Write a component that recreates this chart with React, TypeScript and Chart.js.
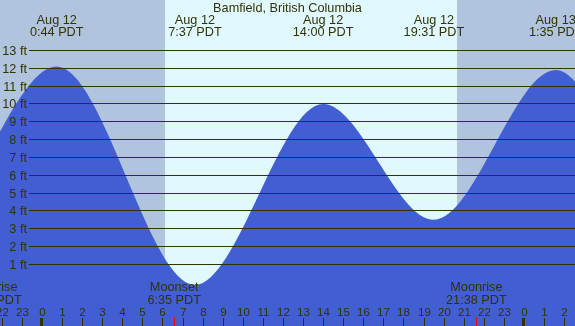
import React, { useEffect, useRef } from "react";
import { Chart, registerables } from "chart.js";

Chart.register(...registerables);

// ---- data (hours relative to Aug 12 00:00 PDT, heights in feet) ----
const tideHours = [-12.3, -5.6, 0.733, 7.617, 14.0, 19.517, 25.583, 32.4, 38.6];
const tideFeet = [10.8, 3.4, 12.1, -0.15, 10.0, 3.5, 11.9, -0.3, 10.6];

const extremeHours = [0.733, 7.617, 14.0, 19.517, 25.583];
const extremeDates = ["Aug 12", "Aug 12", "Aug 12", "Aug 12", "Aug 13"];
const extremeTimes = ["0:44 PDT", "7:37 PDT", "14:00 PDT", "19:31 PDT", "1:35 PDT"];

const moonHours = [-2.52, 6.583, 21.633];
const moonNames = ["Moonrise", "Moonset", "Moonrise"];
const moonTimes = ["21:29 PDT", "6:35 PDT", "21:38 PDT"];

const sunriseHour = 6.125;
const sunsetHour = 20.65;

const footTicks = [1, 2, 3, 4, 5, 6, 7, 8, 9, 10, 11, 12, 13];
const hourTicks = [-2, -1, 0, 1, 2, 3, 4, 5, 6, 7, 8, 9, 10, 11, 12, 13, 14, 15, 16, 17, 18, 19, 20, 21, 22, 23, 24, 25, 26];

const title = "Bamfield, British Columbia";

// ---- styles ----
const NIGHT = "#B0C4DE";
const DAY = "#E0F8FF";
const WATER = "#415FD3";
const INK = "#333300";
const FONT = '12.7px "Liberation Sans", Arial, sans-serif';
const SMALL = '11.5px "Liberation Sans", Arial, sans-serif';

const decor = {
  id: "decor",
  beforeDatasetsDraw(chart: any) {
    const { ctx, chartArea: a, scales } = chart;
    const x = scales.x;
    const sr = Math.round(x.getPixelForValue(sunriseHour));
    const ss = Math.round(x.getPixelForValue(sunsetHour));
    const h = a.bottom - a.top;
    ctx.save();
    ctx.fillStyle = NIGHT;
    ctx.fillRect(a.left, a.top, sr - a.left, h);
    ctx.fillStyle = DAY;
    ctx.fillRect(sr, a.top, ss - sr, h);
    ctx.fillStyle = NIGHT;
    ctx.fillRect(ss, a.top, a.right - ss, h);
    ctx.restore();
  },
  afterDatasetsDraw(chart: any) {
    const { ctx, chartArea: a, scales } = chart;
    const x = scales.x;
    const y = scales.y;
    ctx.save();
    // grid lines and foot labels
    ctx.fillStyle = INK;
    ctx.font = FONT;
    ctx.textAlign = "right";
    ctx.textBaseline = "alphabetic";
    footTicks.forEach((v) => {
      const py = Math.floor(y.getPixelForValue(v));
      ctx.fillRect(29, py, a.right - 29, 1);
      ctx.fillText(`${v} ft`, 27, py + 4.5);
    });
    // title
    ctx.textAlign = "center";
    ctx.fillText(title, (a.left + a.right) / 2, 12);
    // high/low labels
    extremeHours.forEach((hh, i) => {
      const px = x.getPixelForValue(hh);
      ctx.fillText(extremeDates[i], px, 24);
      ctx.fillText(extremeTimes[i], px, 36);
    });
    // moon labels
    moonHours.forEach((hh, i) => {
      const px = x.getPixelForValue(hh);
      ctx.fillText(moonNames[i], px, 291);
      ctx.fillText(moonTimes[i], px, 303.5);
    });
    // hour ticks and labels
    ctx.font = SMALL;
    hourTicks.forEach((hh) => {
      const px = Math.round(x.getPixelForValue(hh));
      const lab = (((hh % 24) + 24) % 24).toString();
      ctx.fillText(lab, px + 0.5, 316);
      if (hh % 24 === 0) ctx.fillRect(px - 2, 318, 3, 8);
      else ctx.fillRect(px, 318, 1, 8);
    });
    ctx.fillStyle = "#FF0000";
    moonHours.forEach((hh) => {
      const px = Math.round(x.getPixelForValue(hh));
      ctx.fillRect(px, 317, 1, 9);
    });
    ctx.restore();
  },
};

export default function App() {
  const ref = useRef<HTMLCanvasElement>(null);
  useEffect(() => {
    if (!ref.current) return;
    const chart = new Chart(ref.current, {
      type: "line",
      data: {
        datasets: [
          {
            data: tideHours.map((h, i) => ({ x: h, y: tideFeet[i] })),
            fill: "start",
            backgroundColor: WATER,
            borderColor: WATER,
            borderWidth: 0,
            pointRadius: 0,
            cubicInterpolationMode: "monotone",
          } as any,
        ],
      },
      options: {
        responsive: false,
        maintainAspectRatio: false,
        animation: false,
        layout: { padding: 0 },
        elements: { line: { capBezierPoints: false } as any },
        scales: {
          x: { type: "linear", min: -2.092, max: 26.544, display: false },
          y: { type: "linear", min: -2.457, max: 15.827, display: false },
        },
        plugins: { legend: { display: false }, tooltip: { enabled: false }, title: { display: false } },
      },
      plugins: [decor],
    });
    return () => chart.destroy();
  }, []);
  return (
    <div style={{ position: "fixed", left: 0, top: 0, width: 575, height: 326 }}>
      <canvas ref={ref} width={575} height={326} style={{ display: "block" }} />
    </div>
  );
}
